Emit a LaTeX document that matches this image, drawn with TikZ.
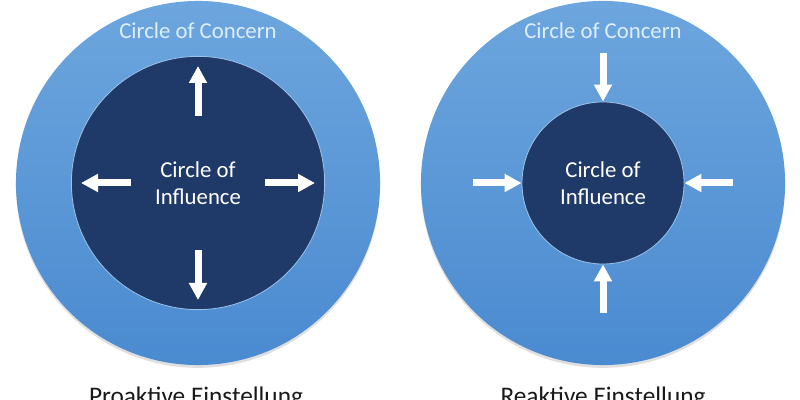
\documentclass[tikz,border=0pt]{standalone}
\usepackage{fontspec}
\setmainfont{Carlito}
\usepackage{tikz}
\usetikzlibrary{arrows.meta, shadows}
\definecolor{concernTop}{HTML}{6DA6DE}
\definecolor{concernBot}{HTML}{4A8AD0}
\definecolor{influence}{HTML}{1F3A68}
\definecolor{concernText}{HTML}{DCEEFF}
\tikzset{concern/.style={circle, minimum size=9.1cm, inner sep=0pt,
    top color=concernTop, bottom color=concernBot,
    drop shadow={shadow xshift=0pt, shadow yshift=-2pt, opacity=0.25}},
  influencebox/.style={circle, inner sep=0pt, fill=influence,
    draw=concernTop!70!white, line width=0.6pt,
    text=white, align=center, font=\fontsize{16.2}{19.2}\selectfont},
  blockarrow/.style={draw=white, line width=0.175cm,
    -{Triangle[length=0.425cm, width=0.43cm]}},
  concernlabel/.style={text=concernText, font=\fontsize{16.2}{19.2}\selectfont},
  caption/.style={anchor=base, text=black!90, font=\fontsize{18}{21}\selectfont}
}

\begin{document}
\begin{tikzpicture}[x=0.025cm, y=0.025cm]
  \clip (0,0) rectangle (800,400);
  \fill[white] (0,0) rectangle (800,400);

  \node[concern] (outL) at (198,217) {};
  \node[concern] (outR) at (603,217) {};
  \node[concernlabel] (concL) at (198,369) {Circle of Concern};
  \node[concernlabel] (concR) at (603,369) {Circle of Concern};

  \node[influencebox, minimum size=6.33cm] (inL) at (198,217) {Circle of\\Influence};
  \node[influencebox, minimum size=4.05cm] (inR) at (603,217) {Circle of\\Influence};

  \foreach \a in {0,90,180,270}
    \draw[blockarrow] ([shift={(\a:67)}]inL.center) -- ([shift={(\a:117)}]inL.center);
  \foreach \a in {0,90,180,270}
    \draw[blockarrow] ([shift={(\a:130)}]inR.center) -- (inR.\a);

  \node[caption] (proL) at (196,-4) {Proaktive Einstellung};
  \node[caption] (reaR) at (603,-4) {Reaktive Einstellung};
\end{tikzpicture}
\end{document}
